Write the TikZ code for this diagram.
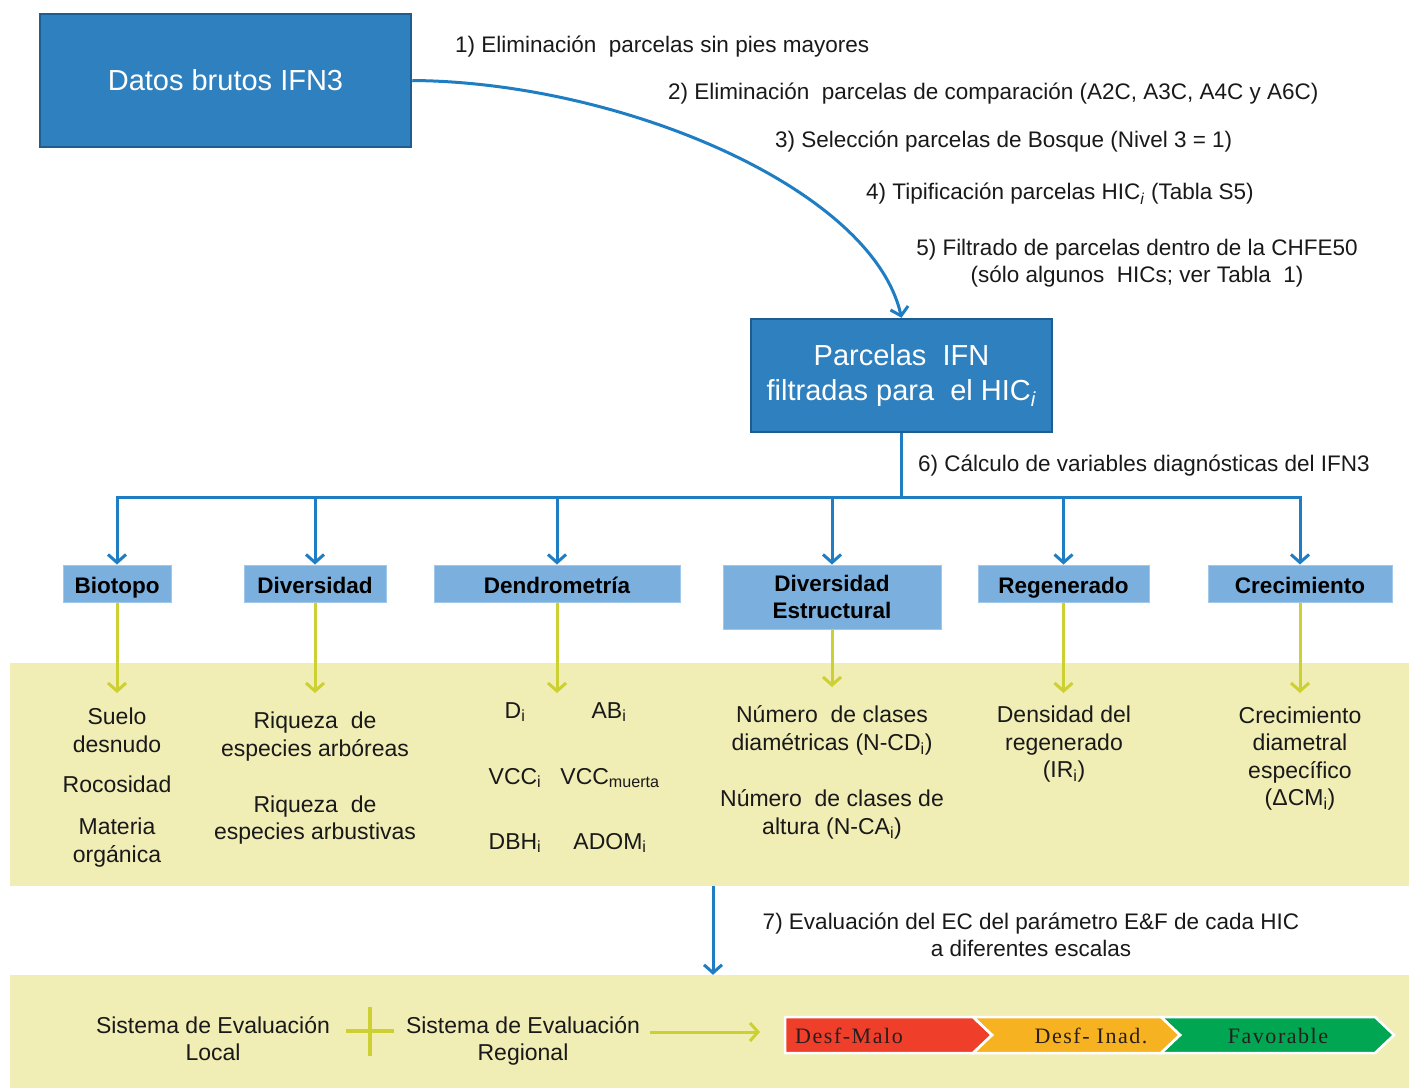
\documentclass[tikz,border=0pt]{standalone}
\usepackage{fontspec}
\setmainfont{Liberation Sans}
\newfontfamily\chevfont[LetterSpace=7]{Liberation Serif}
\usetikzlibrary{arrows.meta}
\definecolor{boxblue}{RGB}{46,128,190}
\definecolor{boxedge}{RGB}{31,92,145}
\definecolor{catblue}{RGB}{123,176,222}
\definecolor{catedge}{RGB}{160,200,235}
\definecolor{arrowblue}{RGB}{30,125,195}
\definecolor{bandyellow}{RGB}{240,237,181}
\definecolor{lineyellow}{RGB}{205,208,50}
\definecolor{txt}{RGB}{25,25,25}
\definecolor{chevred}{RGB}{239,62,42}
\definecolor{chevorange}{RGB}{246,178,33}
\definecolor{chevgreen}{RGB}{0,166,81}
\definecolor{chevtxt}{RGB}{40,30,30}
\tikzset{
  bigbox/.style={draw=boxedge, fill=boxblue, line width=2.5pt, text=white,
    font=\fontsize{29}{35}\selectfont, align=center, inner sep=0pt},
  catbox/.style={fill=catblue, draw=catedge, line width=1pt, text=black,
    font=\bfseries\fontsize{22.5}{27}\selectfont, align=center, inner sep=0pt},
  onecat/.style={catbox, text height=20pt, text depth=1pt},
  band/.style={fill=bandyellow, draw=none, inner sep=0pt},
  steplabel/.style={text=txt, font=\fontsize{22.5}{27}\selectfont, inner sep=0pt, align=center},
  item/.style={text=txt, font=\fontsize{23}{27.5}\selectfont, inner sep=0pt, align=center},
  bluearrow/.style={draw=arrowblue, line width=3pt, -{Straight Barb[length=8pt,width=18pt]}},
  blueline/.style={draw=arrowblue, line width=3pt},
  yellowarrow/.style={draw=lineyellow, line width=3pt, -{Straight Barb[length=8pt,width=18pt]}},
  chev/.style={draw=white, line width=2.5pt, line join=miter},
  chevlabel/.style={text=chevtxt, font=\chevfont\fontsize{22}{24}\selectfont, inner sep=0pt}
}
\begin{document}
\begin{tikzpicture}[x=1pt,y=-1pt]
\useasboundingbox (0,0) rectangle (1409,1088);
\fill[white] (0,0) rectangle (1409,1088);

% bands
\node[band, minimum width=1399pt, minimum height=223pt] (band1) at (709.5,774.5) {};
\node[band, minimum width=1399pt, minimum height=113pt] (band2) at (709.5,1031.5) {};

% main boxes
\node[bigbox, minimum width=371pt, minimum height=133pt] (datos) at (225.5,80.5) {Datos brutos IFN3};
\node[bigbox, minimum width=301pt, minimum height=113pt] (parc) at (901.5,375.5) {Parcelas\ \ IFN\\filtradas para\ \ el HIC\textsubscript{\textit{i}}};

% step labels
\node[steplabel, anchor=west] (l1) at (455,47) {1) Eliminación\ \ parcelas sin pies mayores};
\node[steplabel, anchor=west] (l2) at (668,94) {2) Eliminación\ \ parcelas de comparación (A2C, A3C, A4C y A6C)};
\node[steplabel, anchor=west] (l3) at (775,142) {3) Selección parcelas de Bosque (Nivel 3 = 1)};
\node[steplabel, anchor=west] (l4) at (866,194) {4) Tipificación parcelas HIC\textsubscript{\textit{i}} (Tabla S5)};
\node[steplabel] (l5) at (1137,263.5) {5) Filtrado de parcelas dentro de la CHFE50\\(sólo algunos\ \ HICs; ver Tabla\ \ 1)};
\node[steplabel, anchor=west] (l6) at (918,466) {6) Cálculo de variables diagnósticas del IFN3};
\node[steplabel] (l7) at (1031,934.5) {7) Evaluación del EC del parámetro E\&F de cada HIC\\a diferentes escalas};

% curve
\draw[bluearrow] (datos.east) .. controls (620,82) and (872,188) .. (parc.north);

% category boxes
\node[onecat, minimum width=108pt, minimum height=37pt] (biot) at (117,583.5) {Biotopo};
\node[onecat, minimum width=142pt, minimum height=37pt] (dive) at (315,583.5) {Diversidad};
\node[onecat, minimum width=246pt, minimum height=37pt] (dend) at (557,583.5) {Dendrometría};
\node[catbox, minimum width=218pt, minimum height=64pt] (dies) at (832,597) {Diversidad\\Estructural};
\node[onecat, minimum width=171pt, minimum height=37pt] (rege) at (1063.5,583.5) {Regenerado};
\node[onecat, minimum width=184pt, minimum height=37pt] (crec) at (1300,583.5) {Crecimiento};

% distribution bar
\coordinate (bar) at (901.5,497);
\draw[blueline] (parc.south) -- (bar);
\draw[blueline, line cap=rect] (bar -| biot.north) -- (bar -| crec.north);
\foreach \n in {biot,dive,dend,dies,rege,crec}{
  \draw[bluearrow] (bar -| \n.north) -- (\n.north);
}

% yellow arrows ends
\coordinate (ybiot) at (117,693);
\coordinate (ydive) at (315,693);
\coordinate (ydend) at (557,693);
\coordinate (ydies) at (832,687);
\coordinate (yrege) at (1063.5,693);
\coordinate (ycrec) at (1300,693);
\foreach \n in {biot,dive,dend,dies,rege,crec}{
  \draw[yellowarrow] (\n.south) -- (y\n);
}

% band 1 items
\node[item] (bi1) at (117,730.5) {Suelo\\desnudo};
\node[item] (bi2) at (117,784) {Rocosidad};
\node[item] (bi3) at (117,842.5) {Materia\\orgánica};

\node[item] (dv1) at (315,736.5) {Riqueza\ \ de\\especies arbóreas};
\node[item] (dv2) at (315,820) {Riqueza\ \ de\\especies arbustivas};

\node[item] (de1) at (515,712) {D\textsubscript{i}};
\node[item] (de2) at (609,712) {AB\textsubscript{i}};
\node[item] (de3) at (515,778) {VCC\textsubscript{i}};
\node[item] (de4) at (610,778) {VCC\textsubscript{muerta}};
\node[item] (de5) at (515,843) {DBH\textsubscript{i}};
\node[item] (de6) at (610,843) {ADOM\textsubscript{i}};

\node[item] (ds1) at (832,730.5) {Número\ \ de clases\\diamétricas (N-CD\textsubscript{i})};
\node[item] (ds2) at (832,814.5) {Número\ \ de clases de\\altura (N-CA\textsubscript{i})};

\node[item] (rg1) at (1064,744.5) {Densidad del\\regenerado\\(IR\textsubscript{i})};

\node[item] (cr1) at (1300,758.5) {Crecimiento\\diametral\\específico\\(ΔCM\textsubscript{i})};

% arrow 7
\coordinate (c7) at (713,0);
\draw[bluearrow] (band1.south -| c7) -- (band2.north -| c7);

% bottom row
\node[item, anchor=north] (sloc) at (213,1016) {Sistema de Evaluación\\Local};
\node[item, anchor=north] (sreg) at (523,1016) {Sistema de Evaluación\\Regional};
\draw[draw=lineyellow, line width=4pt] (346,1031) -- (394,1031) (370,1007) -- (370,1056);
\coordinate (yend) at (760,1032);
\draw[yellowarrow] (sreg.east |- yend) ++(10,0) -- (yend);

% chevrons
\fill[chevred] (785,1017) -- (973,1017) -- (992,1035) -- (973,1053) -- (785,1053) -- cycle;
\fill[chevorange] (973,1017) -- (1161,1017) -- (1180,1035) -- (1161,1053) -- (973,1053) -- (992,1035) -- cycle;
\fill[chevgreen] (1161,1017) -- (1375,1017) -- (1394,1035) -- (1375,1053) -- (1161,1053) -- (1180,1035) -- cycle;
\draw[chev] (785,1017) -- (973,1017) -- (992,1035) -- (973,1053) -- (785,1053) -- cycle;
\draw[chev] (973,1017) -- (1161,1017) -- (1180,1035) -- (1161,1053) -- (973,1053) -- (992,1035) -- cycle;
\draw[chev] (1161,1017) -- (1375,1017) -- (1394,1035) -- (1375,1053) -- (1161,1053) -- (1180,1035) -- cycle;
\node[chevlabel, anchor=west] (cv1) at (795,1036) {Desf-Malo};
\node[chevlabel] (cv2) at (1091,1036) {Desf- Inad.};
\node[chevlabel] (cv3) at (1278,1036) {Favorable};
\end{tikzpicture}
\end{document}
